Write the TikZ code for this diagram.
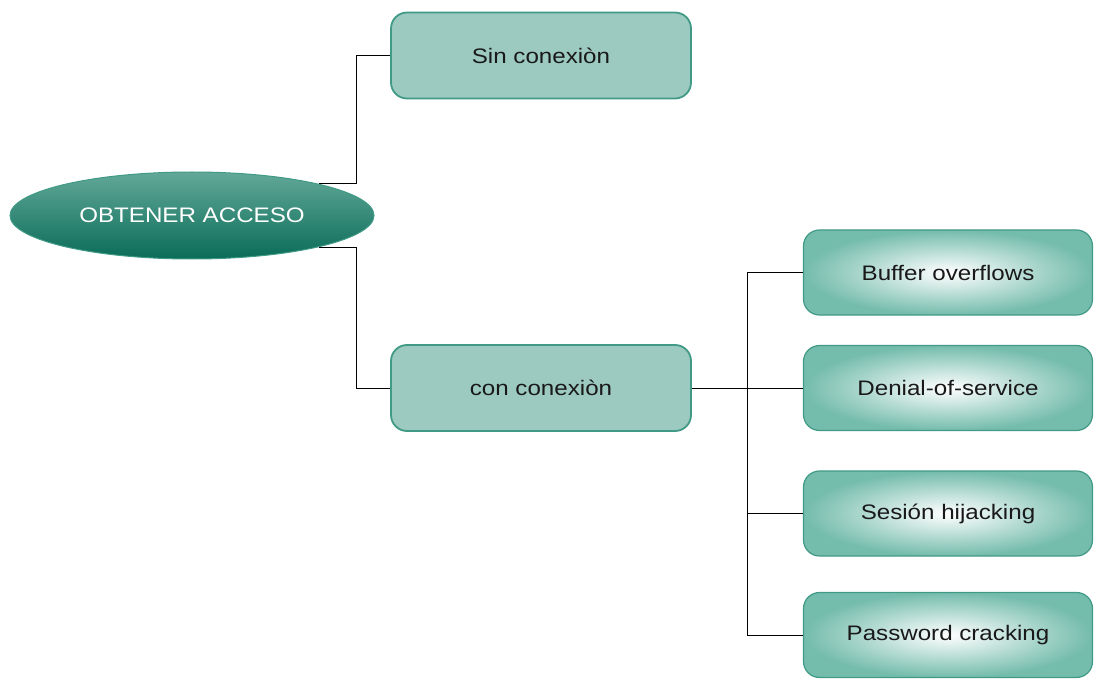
\documentclass[tikz,border=0pt]{standalone}
\usepackage{fontspec}
\setmainfont{Liberation Sans}
\newfontfamily\lblfont{Liberation Sans}[FakeStretch=1.15]
\usetikzlibrary{shapes.geometric}
\definecolor{tealedge}{RGB}{64,154,134}
\definecolor{tealfill}{RGB}{156,202,192}
\definecolor{tealtop}{RGB}{98,168,152}
\definecolor{tealbot}{RGB}{10,108,88}
\definecolor{tealout}{RGB}{116,188,172}
\definecolor{txt}{RGB}{25,25,25}
\tikzset{
  lbl/.style={font=\lblfont\fontsize{21}{25}\selectfont},
  rootnode/.style={ellipse, draw=tealedge, line width=1pt, top color=tealtop, bottom color=tealbot,
    minimum width=364pt, minimum height=87pt, inner sep=0pt, text=white, lbl},
  midbox/.style={rectangle, rounded corners=16pt, draw=tealedge, line width=1.8pt, fill=tealfill,
    minimum width=300pt, minimum height=86pt, text=txt, lbl},
  leafbox/.style={rectangle, rounded corners=16pt, draw=tealedge, line width=1.2pt,
    inner color=white, outer color=tealout,
    minimum width=289pt, minimum height=85pt, text=txt, lbl},
  link/.style={draw=black, line width=1pt}
}
\begin{document}
\begin{tikzpicture}[x=1pt,y=-1pt]
  \useasboundingbox (0,0) rectangle (1095,679);
  \node[rootnode] (obt) at (192,215.5) {OBTENER ACCESO};
  \node[midbox] (sin) at (541,55.5) {Sin conexiòn};
  \node[midbox] (con) at (541,388) {con conexiòn};
  \node[leafbox] (buf) at (948,272.5) {Buffer overflows};
  \node[leafbox] (dos) at (948,388) {Denial-of-service};
  \node[leafbox] (ses) at (948,513.5) {Sesión hijacking};
  \node[leafbox] (pwd) at (948,635) {Password cracking};
  % branches from the root
  \draw[link] (obt.14) -- ++(38,0) coordinate (ja) |- (sin.west);
  \draw[link] (obt.-14) -- ++(38,0) coordinate (jb) |- (con.west);
  % fan-out from the connected branch
  \coordinate (bus) at (747,388);
  \draw[link] (con.east) -- (bus);
  \draw[link] (bus |- buf.west) -- (bus |- pwd.west);
  \foreach \n in {buf,dos,ses,pwd}
    \draw[link] (bus |- \n.west) -- (\n.west);
\end{tikzpicture}
\end{document}
